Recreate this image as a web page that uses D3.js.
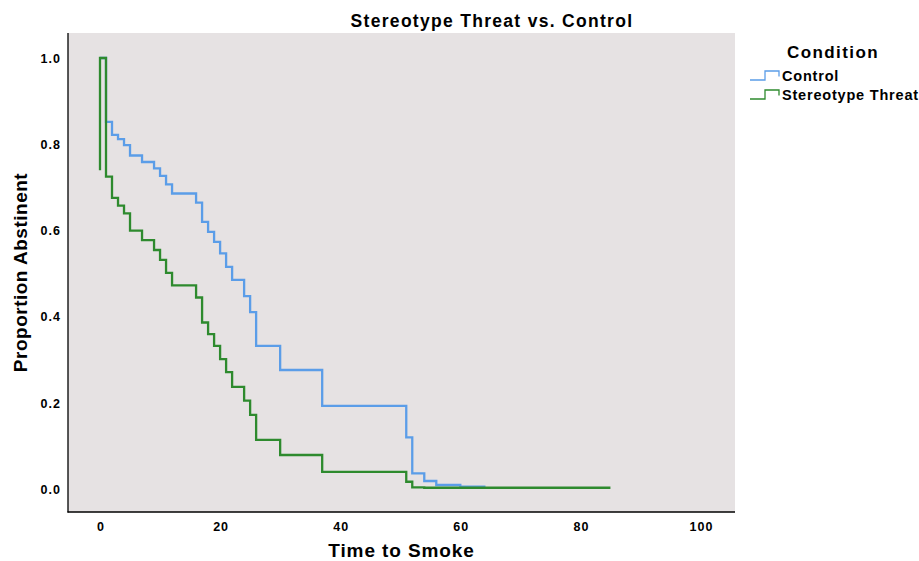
<!DOCTYPE html>
<html>
<head>
<meta charset="utf-8">
<script src="https://cdn.jsdelivr.net/npm/d3@7/dist/d3.min.js"></script>
<style>
  html, body { margin: 0; padding: 0; background: #fff; }
  svg { display: block; }
  text { font-family: "Liberation Sans", Arial, sans-serif; font-weight: bold; fill: #000; }
</style>
</head>
<body>
<script>
// ---- data ----
const seriesNames = ["Control", "Stereotype Threat"];
const controlTimes = [0, 1, 2, 3, 4, 5, 7, 9, 10, 11, 12, 16, 17, 18, 19, 20, 21, 22, 24, 25, 26, 30, 37, 51, 52, 54, 56, 60, 64];
const controlSurv  = [1.0, 0.852, 0.822, 0.812, 0.798, 0.774, 0.759, 0.744, 0.727, 0.707, 0.686, 0.665, 0.620, 0.597, 0.574, 0.547, 0.516, 0.486, 0.448, 0.411, 0.333, 0.277, 0.194, 0.121, 0.0375, 0.0197, 0.0104, 0.0065, 0.004];
const threatTimes  = [0, 0, 1, 2, 3, 4, 5, 7, 9, 10, 11, 12, 16, 17, 18, 19, 20, 21, 22, 24, 25, 26, 30, 37, 51, 52, 54, 85];
const threatSurv   = [0.740, 1.0, 0.725, 0.676, 0.658, 0.640, 0.600, 0.578, 0.555, 0.532, 0.502, 0.473, 0.445, 0.387, 0.360, 0.333, 0.302, 0.272, 0.238, 0.206, 0.173, 0.115, 0.080, 0.041, 0.018, 0.005, 0.004, 0.004];
const xTicks = [0, 20, 40, 60, 80, 100];
const yTicks = [0.0, 0.2, 0.4, 0.6, 0.8, 1.0];
const colors = ["#5b9de8", "#2e8a2e"];

const W = 919, H = 561;
const panel = { left: 68, right: 735, top: 33, bottom: 512 };

const svg = d3.select("body").append("svg").attr("width", W).attr("height", H);

const x = d3.scaleLinear().domain([0, 100]).range([100, 700.5]);
const y = d3.scaleLinear().domain([0, 1]).range([489.5, 58]);

// panel background
svg.append("rect")
  .attr("x", panel.left).attr("y", panel.top)
  .attr("width", panel.right - panel.left).attr("height", panel.bottom - panel.top)
  .attr("fill", "#e6e2e3");

// axes
const xAxis = d3.axisBottom(x).tickValues(xTicks).tickSize(0).tickPadding(10).tickFormat(d3.format("d"));
const gx = svg.append("g").attr("transform", `translate(0,${panel.bottom})`).call(xAxis);
gx.select(".domain").remove();
gx.selectAll("text").attr("font-size", 12.5).attr("letter-spacing", 1).attr("dx", 0.5)
  .style("font-family", '"Liberation Sans", Arial, sans-serif').style("font-weight", "bold");

const yAxis = d3.axisLeft(y).tickValues(yTicks).tickSize(0).tickPadding(7).tickFormat(d3.format(".1f"));
const gy = svg.append("g").attr("transform", `translate(${panel.left},0)`).call(yAxis);
gy.select(".domain").remove();
gy.selectAll("text").attr("font-size", 12.5).attr("letter-spacing", 1)
  .style("font-family", '"Liberation Sans", Arial, sans-serif').style("font-weight", "bold");

svg.append("line").attr("x1", panel.left).attr("x2", panel.left)
  .attr("y1", panel.top).attr("y2", panel.bottom + 0.5)
  .attr("stroke", "#000").attr("stroke-width", 1.3);
svg.append("line").attr("x1", panel.left - 0.5).attr("x2", panel.right)
  .attr("y1", panel.bottom).attr("y2", panel.bottom)
  .attr("stroke", "#000").attr("stroke-width", 1.3);

// curves
const line = d3.line().x(d => x(d[0])).y(d => y(d[1])).curve(d3.curveStepAfter);
const series = [
  d3.zip(controlTimes, controlSurv),
  d3.zip(threatTimes, threatSurv)
];
series.forEach((s, i) => {
  svg.append("path").datum(s).attr("d", line)
    .attr("fill", "none").attr("stroke", colors[i]).attr("stroke-width", 2.3)
    .attr("stroke-linejoin", "miter");
});

// title
svg.append("text").attr("x", 492).attr("y", 26.5).attr("text-anchor", "middle")
  .attr("font-size", 17.5).attr("letter-spacing", 1.3).text("Stereotype Threat vs. Control");

// axis titles
svg.append("text").attr("x", (panel.left + panel.right) / 2).attr("y", 557)
  .attr("text-anchor", "middle").attr("font-size", 19).attr("letter-spacing", 0.9).text("Time to Smoke");
svg.append("text").attr("transform", `translate(27,${(panel.top + panel.bottom) / 2}) rotate(-90)`)
  .attr("text-anchor", "middle").attr("font-size", 19).attr("letter-spacing", 0.5).text("Proportion Abstinent");

// legend
svg.append("text").attr("x", 833).attr("y", 57.5).attr("text-anchor", "middle")
  .attr("font-size", 17).attr("letter-spacing", 1.4).text("Condition");
seriesNames.forEach((name, i) => {
  const by = 80.5 + i * 19;
  const k = d3.path();
  k.moveTo(750, by - 0.5);
  k.lineTo(765, by - 0.5);
  k.lineTo(765, by - 9.5);
  k.lineTo(779, by - 9.5);
  k.lineTo(779, by - 4);
  svg.append("path").attr("d", k.toString()).attr("fill", "none")
    .attr("stroke", colors[i]).attr("stroke-width", 1.3);
  svg.append("text").attr("x", 782).attr("y", by).attr("font-size", 14.5)
    .attr("letter-spacing", 0.8).text(name);
});
</script>
</body>
</html>
